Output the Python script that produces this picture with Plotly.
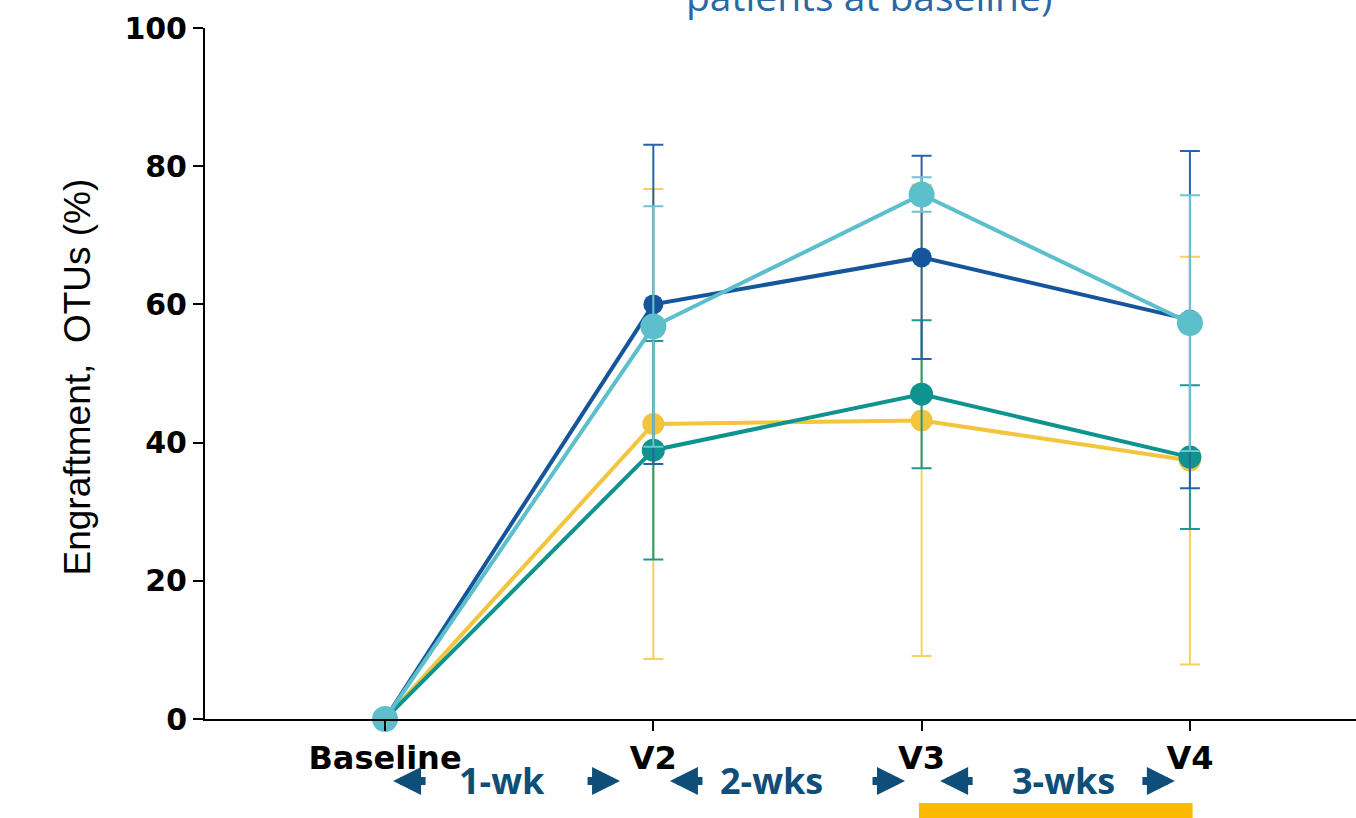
import plotly.graph_objects as go

# ---- data ----
visits = ["Baseline", "V2", "V3", "V4"]

dark_blue_mean = [0, 60.0, 66.8, 57.8]
dark_blue_err = [None, 23.1, 14.7, 24.4]

cyan_mean = [0, 56.8, 75.9, 57.3]
cyan_err = [None, 17.4, 2.5, 18.5]

teal_mean = [0, 38.9, 47.0, 37.9]
teal_err = [None, 15.8, 10.7, 10.4]

yellow_mean = [0, 42.7, 43.2, 37.4]
yellow_err = [None, 34.0, 34.1, 29.5]

y_ticks = [0, 20, 40, 60, 80, 100]

intervals = ["1-wk", "2-wks", "3-wks"]

# ---- figure ----
fig = go.Figure()

series = [
    ("Series yellow", yellow_mean, yellow_err, "#f2c53d", "#f6d060", 22),
    ("Series teal", teal_mean, teal_err, "#0e938f", "#1a9a96", 23),
    ("Series dark blue", dark_blue_mean, dark_blue_err, "#14559b", "#2a62a6", 20),
    ("Series cyan", cyan_mean, cyan_err, "#5cbfcb", "#6cc5d0", 26),
]

for name, mean, err, col, ecol, msize in series:
    fig.add_trace(go.Scatter(
        x=visits, y=mean, name=name, mode="lines+markers",
        line=dict(color=col, width=4),
        marker=dict(color=col, size=msize),
        error_y=dict(type="data", array=err, visible=True,
                     color=ecol, thickness=2, width=10),
        cliponaxis=False, showlegend=False,
    ))

bold = dict(family="DejaVu Sans", size=30, color="black", weight="bold")

fig.update_xaxes(
    type="category", range=[-0.671, 3.619],
    showline=True, linecolor="black", linewidth=2,
    ticks="outside", ticklen=10, tickwidth=1.5, tickcolor="black",
    tickfont=dict(family="DejaVu Sans", size=32, color="black", weight="bold"),
    showgrid=False, zeroline=False,
)
fig.update_yaxes(
    range=[0, 100], tickvals=y_ticks,
    showline=True, linecolor="black", linewidth=2,
    ticks="outside", ticklen=10, tickwidth=1.5, tickcolor="black",
    tickfont=bold, showgrid=False, zeroline=False,
)

annotations = [
    dict(text="Engraftment,  OTUs (%)", xref="paper", yref="paper",
         x=0, y=0.5, xshift=-128, yshift=-4, textangle=-90, showarrow=False,
         xanchor="center", yanchor="middle",
         font=dict(family="Liberation Sans", size=37, color="black")),
    dict(text="patients at baseline)", xref="paper", yref="paper",
         x=0.577, y=1, yshift=4, xanchor="center", yanchor="bottom", showarrow=False,
         font=dict(family="Open Sans", size=39, color="#2a67a6")),
]

lbl_col = "#0e4e79"
text_x = [0.435, 1.439, 2.527]
left_tips = [0.03, 1.062, 2.069]
right_tips = [0.876, 1.938, 2.944]
y_row = -0.0897
for lab, tx, lt, rt in zip(intervals, text_x, left_tips, right_tips):
    annotations.append(dict(text=lab, xref="x", yref="paper", x=tx, y=-0.0883,
                            showarrow=False, xanchor="center", yanchor="middle",
                            font=dict(family="Open Sans", size=36, color=lbl_col, weight="bold")))
    annotations.append(dict(text="", xref="x", yref="paper", x=lt, y=y_row,
                            ax=34, ay=0, showarrow=True, arrowhead=2, arrowsize=0.7,
                            arrowwidth=8, arrowcolor=lbl_col))
    annotations.append(dict(text="", xref="x", yref="paper", x=rt, y=y_row,
                            ax=-34, ay=0, showarrow=True, arrowhead=2, arrowsize=0.7,
                            arrowwidth=8, arrowcolor=lbl_col))

fig.add_shape(type="rect", xref="x", yref="paper", x0=1.99, x1=3.01,
              y0=-0.2, y1=-0.1216, fillcolor="#fbb900", line=dict(width=0))

fig.update_layout(
    width=1356, height=818,
    margin=dict(l=205, r=0, t=28, b=99),
    paper_bgcolor="white", plot_bgcolor="white",
    annotations=annotations,
)

fig.write_html("out.html", config={"displayModeBar": False},
               post_script="document.body.style.margin='0';document.body.style.overflow='hidden';")
